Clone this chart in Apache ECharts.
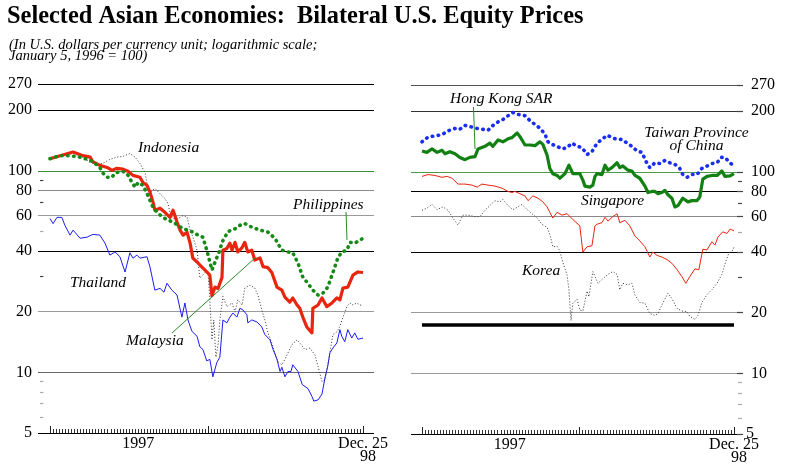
<!DOCTYPE html>
<html><head><meta charset="utf-8">
<script src="https://cdn.jsdelivr.net/npm/echarts/dist/echarts.min.js"></script>
<style>html,body{margin:0;padding:0;background:#fff}#c{width:794px;height:476px}</style>
</head><body><div id="c"></div>
<script>
// ---- axis labels / ticks ----
const yTicks = [270, 200, 100, 80, 60, 40, 20, 10, 5];
const yMinorTicks = [90, 70, 50, 30, 9, 8, 7, 6];
const yearLabel = '1997';
const yearLabelWeek = 29;
const endLabel = ['Dec. 25', '98'];
const lastWeek = 103;
const majorWeekStep = 52;

// ---- series: [week since Jan 3 1997, index (Jan 5 1996 = 100)] ----
const indonesia = [[0,115],[3.3,118],[7.6,122],[10.9,117],[13.2,110],[15.5,108],[17.4,109],[19.7,114],[22,117],[24,118],[26.3,122],[28,117],[29.6,109],[31.3,98],[31.9,87],[32.9,78],[34.5,82],[36.2,77],[37.8,73],[38.8,69],[39.5,62],[40.5,58],[42.1,58],[43.8,60],[45.1,59],[46.1,51],[47,47],[48.4,40.4],[49.3,29.4],[50.3,30.4],[51,31.3],[52,31.3],[52.6,22.9],[53.3,14.5],[53.9,18.2],[54.6,11.9],[55.3,13.7],[55.9,18.2],[56.9,23.8],[58.2,21.2],[59.9,22.1],[60.9,19.9],[61.8,22.9],[63.2,21.6],[64.1,26.2],[65.8,27.1],[67.4,26.2],[68.4,24.2],[69.7,20.4],[70.7,18.2],[71.7,15.7],[73,14],[74,12.5],[75,11.3],[76.3,10.9],[77.3,11.6],[78.3,12.5],[79.6,13.7],[81.3,14.5],[82.2,14],[83.9,12.96],[85.5,13.2],[87.2,12.2],[88.2,10.7],[89.5,9],[90.5,9.2],[91.1,9],[92.1,12.5],[93.1,15.4],[94.4,15.9],[95.4,16.9],[96.4,18.8],[97.7,21.2],[98.7,22.1],[99.7,21.6],[101,22.1],[102,21.6],[103,21.4]];
const malaysia = [[0,115],[3.3,119],[7.6,124],[10.9,119],[13.2,117],[14.1,111],[16.4,106.5],[18.8,104],[20.4,100.6],[22,103],[24,102],[25.7,99.5],[27.3,95],[29.6,93],[30.6,87.6],[31.9,84.8],[32.9,78.4],[33.9,70],[34.5,63.8],[36.2,65.3],[37.8,62.3],[39.5,58.8],[40.5,63.8],[41.8,55.7],[42.8,50.8],[43.8,48],[45.1,49.6],[46.1,43.8],[47,36.9],[48.4,35.3],[50,33.3],[51.6,31.5],[52.6,30.4],[53.3,24],[54.3,26.5],[55.3,26.1],[56.6,29.6],[56.9,40.4],[58.2,41.2],[59.2,43.8],[59.9,40.4],[60.9,44.2],[61.8,39.6],[63.2,41.6],[64.1,44.2],[65.1,39.6],[66.4,40.4],[67.4,36.1],[69.1,37],[70.1,33.5],[71.7,33.1],[73,31.3],[74.7,26.5],[76.3,25.6],[77.3,23.6],[78.9,22.3],[79.9,23.4],[81.3,21.6],[82.2,20.8],[83.2,18.8],[84.5,16.8],[86.2,15.7],[86.5,20.8],[88.2,21.6],[89.5,23.4],[91.1,21.2],[92.8,22.1],[94.4,23.4],[95.4,22.9],[96.4,26.2],[98,26.5],[99.7,30.4],[101.3,31.5],[103,31.3]];
const philippines = [[0,115],[3.3,119],[6.6,119],[9.9,117],[13.2,113],[14.8,109],[16.4,104],[17.4,97.6],[18.8,93],[20.4,93],[21.4,97.6],[23,99],[24.7,99],[25.7,95],[27,87.6],[28,83],[29,87.6],[30.6,84.8],[32.2,75.6],[33.9,66],[35.2,62.3],[37.2,58.8],[38.8,57],[40.5,55.7],[42.1,53.7],[43.8,51.6],[45.4,50.8],[47,49.7],[48.7,48],[50.3,46.9],[51.6,40.4],[53.3,32.2],[54.3,35.3],[55.9,40.4],[56.6,44.2],[58.6,50],[60.9,51.6],[62.5,53.7],[64.1,54.8],[66.4,52.6],[69.1,50.8],[71.7,49.7],[74,46.3],[76.3,40.4],[78.3,39.6],[79.9,39.2],[81.6,34.9],[83.2,29.7],[84.9,27.6],[86.5,25.6],[88.2,24.2],[89.8,24.7],[91.4,26.5],[93.1,31.3],[94.7,36.9],[96,39.6],[97.7,40.4],[98.7,44.2],[100.3,43.8],[103,46.3]];
const thailand = [[0,58],[1,54.7],[2.3,58.8],[3.9,58.8],[4.9,53.7],[6.6,48],[7.6,50.8],[9.9,46.3],[12.2,46.9],[14.1,48.4],[16.4,48],[18.1,43.8],[19.7,38.2],[21.4,39.6],[23,37.5],[24.7,31.5],[26.3,39.2],[27.3,36.9],[28.6,38.2],[29.6,36.9],[31.9,37.5],[32.9,33.4],[34.5,25.6],[36.2,26.1],[37.5,25],[38.5,27.7],[40.1,25.6],[41.8,24.2],[43.4,18.8],[44.4,22.1],[45.4,18.2],[46.7,16],[48.4,15.1],[49.3,13.4],[50.3,13],[51.6,11.4],[52.6,11.6],[53.6,9.5],[54.9,11.2],[55.9,11.9],[56.9,18.2],[58.2,17.6],[59.2,18.8],[60.2,19.7],[61.5,18.8],[62.5,20.8],[63.5,20.4],[64.8,19.3],[65.1,17.6],[66.4,18.2],[68.1,17.8],[69.7,16.8],[70.7,15.4],[72.4,14.5],[73.4,13],[74.7,11.6],[75.7,10.1],[76.3,10.6],[77.3,9.5],[78.3,10.1],[79.3,10.1],[79.9,10.9],[81.6,10.1],[83,8.7],[84.9,8.3],[86.2,7.6],[86.8,7.2],[88.2,7.3],[89.5,7.8],[90.5,9.4],[91.4,10.7],[92.1,12.5],[93.1,13.2],[94.4,14],[95.4,16.3],[96,15.1],[97,14.2],[98,16.3],[99.3,14.8],[100.3,15.7],[101.3,14.6],[103,14.8]];
const hongKong = [[0,127],[1.6,125],[3.3,130],[5,125],[6.6,128],[7.6,123],[9.2,126],[10.9,123],[12.5,118],[14.2,115],[15.8,118],[17.5,119],[18.5,130],[20.8,134],[22.4,139],[23.4,134],[25.1,144],[26.7,141],[28.4,146],[29.7,148],[31.4,156],[32.3,150],[34,136],[35.6,136],[37.3,135],[38.9,141],[39.9,137],[41.3,121],[42.2,104],[43.2,98],[44.6,96],[45.5,93],[47.2,98],[48.5,108],[49.8,98],[52.1,98],[53.1,91],[53.8,85],[55.4,84],[56.4,86],[57.1,95],[57.8,98],[59.4,97],[60.4,108],[61.4,102],[62.7,105],[64.4,111],[65.3,105],[66.3,107],[68,102],[69.3,101],[70.3,96],[71.9,93],[73.6,85],[74.6,79],[75.9,80],[76.9,80],[77.9,78],[79.2,79],[80.2,81],[81.2,77],[82.5,74],[83.5,67],[84.5,68],[86.1,74],[87.8,71],[89.1,72],[90.8,72],[91.7,75],[92.7,92],[94.1,95],[95.7,96],[97.4,96],[99,101],[100,95],[101.7,95.5],[103,98]];
const taiwan = [[0,141],[2,149],[4.3,151],[6.6,153],[8.3,159],[9.9,163],[11.6,165],[12.5,163],[14.2,170],[15.8,168],[17.5,165],[19.8,163],[21.8,161],[23.4,170],[25.1,177],[26.7,182],[28.4,190],[30,197],[31.7,193],[34,190],[35.6,180],[37.3,172],[38.9,165],[40.6,154],[41.6,141],[42.9,137],[44.6,134],[46.2,130],[47.9,132],[49.5,139],[51.2,134],[52.8,132],[54.5,122],[56.1,126],[57.8,139],[59.4,145],[61.1,152],[62.7,148],[64.4,145],[66,145],[67.7,139],[69.3,134],[71,127],[72.6,125],[73.9,113],[75.2,105],[76.9,111],[78.5,110],[80.2,114],[81.8,111],[83.5,109],[85.1,104],[86.1,97],[87.5,94],[89.1,97],[90.8,97],[92.4,104],[94.1,107],[95.7,110],[97.4,111],[98.7,118],[100,118],[101.7,111],[102.6,108]];
const singapore = [[0,95],[2,97],[4.3,96],[6.6,94],[8.3,95],[9.9,93],[11.9,87],[14.2,87],[16.5,86],[18.2,84],[19.8,87],[21.8,86],[24.1,85],[26.4,83],[28.4,80],[29.7,79],[30.7,80],[32.3,78],[34,76],[35,72],[36.6,76],[38.3,74],[39.9,71],[41.3,67],[42.2,63],[43.2,59],[44.6,63],[46.2,61],[47.9,62],[49.8,58],[52.1,54],[53.1,40],[54.5,42.5],[56.1,43],[57.1,54],[57.8,55],[59.4,56],[60.4,59.5],[61.4,57],[63,60],[64.4,62],[65.3,56],[67,57.5],[68.6,54],[70.3,48],[71.9,45.5],[73.6,42.5],[75.2,37.8],[76.2,40],[77.6,38.5],[79.2,37.8],[80.9,36.7],[82.5,35.2],[84.2,32.7],[85.8,30.2],[87.1,28],[88.4,30.2],[90.1,33],[91.4,32.7],[92.7,41.3],[94.1,41],[95.7,45],[96.7,43.3],[97.7,47.5],[99.3,50.4],[100.7,49.5],[101.7,52],[103,51]];
const korea = [[0,64.5],[1.6,66],[3.3,69],[5,65],[6.9,67],[8.6,64.5],[10.2,59],[11.9,54.5],[13.5,61],[15.2,61],[17.5,60],[19.1,60],[20.8,64.5],[22.4,68],[24.1,72],[25.7,71],[26.7,73],[28.4,68],[30,65],[31.7,67],[33,69],[34.7,65],[36.3,62],[38,59],[39.6,55],[41.3,53],[42.2,49],[43.2,42.5],[44.6,42.7],[45.5,40.5],[46.5,35.5],[47.9,30.7],[48.5,26],[49.2,18.3],[49.8,22.3],[51.2,23.3],[52.1,20.6],[53.1,20.4],[54.5,25.6],[55.1,24],[56.4,32],[58.1,28],[59.7,29.5],[61.4,31],[63,32],[64.4,31],[65.3,26],[66.3,28],[68,27.5],[69.3,28],[70.3,24.5],[71.9,22.5],[73.6,22.3],[75.2,19.8],[76.9,19.4],[77.9,19.8],[79.5,22.3],[81.2,25],[82.5,23.5],[84.2,21],[85.8,20.4],[87.5,20.2],[88.4,19.2],[90.1,18.5],[91.1,19.4],[92.4,22.5],[94.1,24.6],[95.7,26],[97.4,28],[99,31],[100.3,36],[101.3,39.5],[102.6,40.8],[103,42.5]];
const koreaBarLevel = 17.5;

// ---- styling ----
const SERIF = '"Liberation Serif", "Times New Roman", serif';
const leftGridColors = {270:'#000',200:'#000',100:'#3a8f3a',80:'#8a8a8a',60:'#9a9a9a',40:'#000',20:'#9a9a9a',10:'#666',5:'#000'};
const rightGridColors = {270:'#555',200:'#333',100:'#4d9a4d',80:'#000',60:'#8a8a8a',40:'#000',20:'#9a9a9a',10:'#9a9a9a',5:'#000'};
const minorColor = {90:'#444',70:'#444',50:'#aaa',30:'#444',9:'#aaa',8:'#aaa',7:'#aaa',6:'#aaa'};

const labelBase = {color:'#000', fontSize:16, fontFamily:SERIF};

function leftFrameLines(){
  const d = [];
  yTicks.forEach(v=>{
    d.push([{coord:[0,v], lineStyle:{color:leftGridColors[v], width:1.2, type:'solid'},
      label:Object.assign({show:true, position:'start', distance:6, formatter:String(v)}, labelBase)},
      {coord:[1,v]}]);
  });
  yMinorTicks.forEach(v=>{
    d.push([{coord:[0.006,v], lineStyle:{color:minorColor[v], width:1.2, type:'solid'}, label:{show:false}},{coord:[0.016,v]}]);
  });
  return d;
}
function rightFrameLines(){
  const d = [];
  const gEnd = 0.982;
  yTicks.forEach(v=>{
    d.push([{coord:[0,v], lineStyle:{color:rightGridColors[v], width:1.2, type:'solid'}, label:{show:false}},{coord:[v===5?1:gEnd,v]}]);
    d.push([{coord:[gEnd,v], lineStyle:{color:'#444', width:1.2, type:'solid'},
      label:Object.assign({show:true, position:'end', distance: v===5?3:8, formatter:String(v)}, labelBase)},
      {coord:[1,v]}]);
  });
  yMinorTicks.forEach(v=>{
    d.push([{coord:[0.985,v], lineStyle:{color:minorColor[v], width:1.2, type:'solid'}, label:{show:false}},{coord:[0.997,v]}]);
  });
  return d;
}

function frameX(gi){ return {gridIndex:gi, type:'value', min:0, max:1, show:false}; }
function logY(gi){ return {gridIndex:gi, type:'log', logBase:10, min:5, max:270, show:false}; }
function minorX(gi){
  return {gridIndex:gi, type:'value', min:0, max:lastWeek, interval:1, position:'bottom',
    axisLine:{show:false}, splitLine:{show:false},
    axisTick:{show:true, inside:true, length:4, lineStyle:{color:'#333', width:1}},
    axisLabel:{show:true, margin:4, showMinLabel:true, showMaxLabel:true,
      formatter:function(v){ if (v===yearLabelWeek) return '{a|'+yearLabel+'}'; if (v===lastWeek) return '{a|'+endLabel[0]+'}\n{b|'+endLabel[1]+'}'; return ''; },
      rich:{a:{fontSize:16, fontFamily:SERIF, color:'#000', lineHeight:13}, b:{fontSize:16, fontFamily:SERIF, color:'#000', lineHeight:13, padding:[0,0,0,10]}}}
  };
}
function majorX(gi){
  return {gridIndex:gi, type:'value', min:0, max:lastWeek, interval:majorWeekStep, position:'bottom',
    axisLine:{show:false}, splitLine:{show:false}, axisLabel:{show:false},
    axisTick:{show:true, inside:true, length:7, lineStyle:{color:'#222', width:1}}};
}

function lineSeries(xi, yi, data, color, width, type, z){
  const ls = {color:color, width:width, join:'round'};
  if (type === 'dots') { ls.type = [0.5, 5.5]; ls.cap = 'round'; }
  else if (type === 'fine') { ls.type = [1, 2]; }
  else ls.type = 'solid';
  return {type:'line', xAxisIndex:xi, yAxisIndex:yi, data:data, showSymbol:false, symbol:'none',
    lineStyle:ls, z:z, silent:true, animation:false};
}

const italic = 'italic 15.5px ' + SERIF;
function txt(x, y, s, font, align){
  return {type:'text', x:x, y:y, silent:true, z:100,
    style:{text:s, font:font, fill:'#000', align:align||'left', verticalAlign:'middle', textAlign:align||'left', textVerticalAlign:'middle'}};
}
function lead(x1,y1,x2,y2){
  return {type:'line', silent:true, z:90, shape:{x1:x1,y1:y1,x2:x2,y2:y2}, style:{stroke:'#2a8a2a', lineWidth:1}};
}

const option = {
  animation:false,
  backgroundColor:'#fff',
  grid:[
    {left:38, top:84, width:336, height:349},
    {left:50, top:84, width:313, height:349},
    {left:411, top:85, width:332, height:349},
    {left:422, top:85, width:312, height:349}
  ],
  xAxis:[frameX(0), minorX(1), majorX(1), frameX(2), minorX(3), majorX(3)],
  yAxis:[logY(0), logY(1), logY(2), logY(3)],
  series:[
    {type:'line', xAxisIndex:0, yAxisIndex:0, data:[], silent:true,
      markLine:{silent:true, symbol:['none','none'], animation:false, data:leftFrameLines()}},
    {type:'line', xAxisIndex:3, yAxisIndex:2, data:[], silent:true,
      markLine:{silent:true, symbol:['none','none'], animation:false, data:rightFrameLines()}},
    lineSeries(1, 1, thailand, '#1c1cf5', 1, 'solid', 5),
    lineSeries(1, 1, indonesia, '#333', 1, 'fine', 6),
    lineSeries(1, 1, malaysia, '#e8250f', 3.2, 'solid', 7),
    lineSeries(1, 1, philippines, '#168a16', 3.6, 'dots', 8),
    Object.assign(lineSeries(4, 3, korea, '#333', 1, 'fine', 5), {
      markLine:{silent:true, symbol:['none','none'], animation:false,
        data:[[{coord:[0,koreaBarLevel], lineStyle:{color:'#000', width:3.5, type:'solid'}, label:{show:false}},{coord:[lastWeek,koreaBarLevel]}]]}}),
    lineSeries(4, 3, singapore, '#e8250f', 1, 'solid', 6),
    lineSeries(4, 3, taiwan, '#1a2ef0', 3.6, 'dots', 7),
    lineSeries(4, 3, hongKong, '#128012', 3.2, 'solid', 8)
  ],
  graphic:[
    txt(7, 17, 'Selected Asian Economies:  Bilateral U.S. Equity Prices', 'bold 24.4px ' + SERIF),
    txt(9, 45, '(In U.S. dollars per currency unit; logarithmic scale;', 'italic 14.5px ' + SERIF),
    txt(9, 56, 'January 5, 1996 = 100)', 'italic 14.5px ' + SERIF),
    txt(138, 148, 'Indonesia', italic),
    txt(293, 204.5, 'Philippines', italic),
    txt(70, 283, 'Thailand', italic),
    txt(126, 340.5, 'Malaysia', italic),
    txt(450, 99, 'Hong Kong SAR', italic),
    txt(696.5, 133, 'Taiwan Province', italic, 'center'),
    txt(696.5, 145.5, 'of China', italic, 'center'),
    txt(581, 200.5, 'Singapore', italic),
    txt(522, 270.5, 'Korea', italic),
    lead(346, 212, 347, 240),
    lead(172, 333, 255, 258),
    lead(473.5, 107, 475, 149)
  ]
};
const chart = echarts.init(document.getElementById('c'), null, {renderer:'canvas'});
chart.setOption(option);
</script>
</body></html>
